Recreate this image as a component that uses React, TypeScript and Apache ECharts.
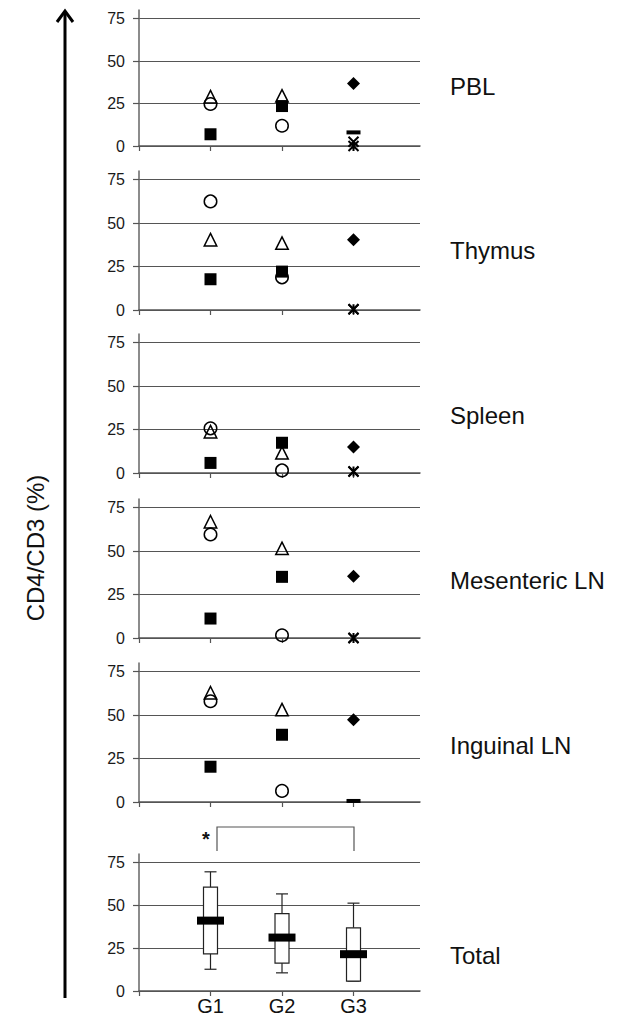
import React, { useEffect, useRef } from "react";
import * as echarts from "echarts";

// ---- data ----
const groups = ["G1", "G2", "G3"];
const tissues = ["PBL", "Thymus", "Spleen", "Mesenteric LN", "Inguinal LN"];
const yTicks = [0, 25, 50, 75];

// open triangle (G1, G2) per tissue
const triangleG1 = [29, 40.5, 23.8, 66.9, 62.9];
const triangleG2 = [29.5, 38.5, 11.6, 51.6, 53.2];
// open circle
const circleG1 = [24.7, 62.5, 25.7, 59.6, 58.0];
const circleG2 = [11.9, 18.8, 1.5, 1.6, 6.4];
// filled square
const squareG1 = [6.9, 17.7, 5.8, 11.2, 20.3];
const squareG2 = [23.5, 22.1, 17.4, 35.2, 38.7];
// G3 animals
const diamondG3 = [36.8, 40.4, 14.9, 35.6, 47.4];
const crossG3: (number | null)[] = [2.5, 0.4, 0.9, 0, null];
const starG3: (number | null)[] = [0, 0.4, 0.9, 0, null];
const dashG3: (number | null)[] = [8, null, null, null, 0.6];

// Total box plot (G1, G2, G3)
const boxLow = [12.7, 10.6, 5.8];
const boxQ1 = [21.7, 16.3, 5.8];
const boxMedian = [41.1, 31.2, 21.5];
const boxQ3 = [60.6, 45.2, 36.9];
const boxHigh = [69.6, 56.7, 51.3];

const FONT = "'Liberation Sans', Arial, Helvetica, sans-serif";

export default function App() {
  const ref = useRef<HTMLDivElement>(null);

  useEffect(() => {
    if (!ref.current) return;
    const chart = echarts.init(ref.current, undefined, { renderer: "svg" });

    const gridBottoms = [146, 310, 473, 638, 802, 993];
    const gridHeights = [136, 139, 139, 139, 139, 139];
    const grids = gridBottoms.map((b, i) => ({
      left: 139,
      width: 281,
      top: b - gridHeights[i],
      height: gridHeights[i],
    }));

    const xAxes = grids.map((_, i) => ({
      type: "value",
      gridIndex: i,
      min: 0,
      max: 3.93,
      interval: 1,
      axisLine: { show: true, lineStyle: { color: "#555", width: 1.5 } },
      axisTick: {
        show: true,
        length: 5,
        customValues: [0, 1, 2, 3],
        lineStyle: { color: "#555", width: 1.2 },
      },
      axisLabel: {
        show: i === 5,
        customValues: [1, 2, 3],
        formatter: (v: number) => groups[Math.round(v) - 1] ?? "",
        fontSize: 20,
        color: "#111",
        fontFamily: FONT,
        margin: 5,
      },
      splitLine: { show: false },
    }));

    const yAxes = grids.map((_, i) => ({
      type: "value",
      gridIndex: i,
      min: 0,
      max: 80,
      interval: 25,
      axisLine: { show: true, lineStyle: { color: "#666", width: 1.5 } },
      axisTick: {
        show: true,
        length: 6,
        customValues: yTicks,
        lineStyle: { color: "#555", width: 1.2 },
      },
      axisLabel: {
        customValues: yTicks,
        fontSize: 16,
        color: "#1a1a1a",
        fontFamily: FONT,
        margin: 14,
      },
      splitLine: {
        show: true,
        lineStyle: { color: "#555", width: 1.2 },
      },
    }));

    const open = { color: "rgba(0,0,0,0)", borderColor: "#000", borderWidth: 1.5, opacity: 1 };
    const filled = { color: "#000", opacity: 1 };

    const pts = (g1: (number | null)[] | null, g2: (number | null)[] | null, g3: (number | null)[] | null, i: number) => {
      const out: number[][] = [];
      if (g1 && g1[i] != null) out.push([1, g1[i] as number]);
      if (g2 && g2[i] != null) out.push([2, g2[i] as number]);
      if (g3 && g3[i] != null) out.push([3, g3[i] as number]);
      return out;
    };

    const series: any[] = [];
    tissues.forEach((_, i) => {
      const base = { type: "scatter", xAxisIndex: i, yAxisIndex: i, silent: true };
      series.push({ ...base, symbol: "rect", symbolSize: 12, itemStyle: filled, data: pts(squareG1, squareG2, null, i) });
      series.push({ ...base, symbol: "diamond", symbolSize: 13, itemStyle: filled, data: pts(null, null, diamondG3, i) });
      series.push({ ...base, symbol: "rect", symbolSize: [14, 4], itemStyle: filled, data: pts(null, null, dashG3, i) });
      series.push({
        ...base,
        symbol: "path://M0 0L10 10M10 0L0 10",
        symbolSize: 10,
        itemStyle: { color: "none", borderColor: "#000", borderWidth: 2, opacity: 1 },
        data: pts(null, null, crossG3, i),
      });
      series.push({
        ...base,
        symbol: "path://M0 0L10 10M10 0L0 10M5 0L5 10",
        symbolSize: 10,
        itemStyle: { color: "none", borderColor: "#000", borderWidth: 2, opacity: 1 },
        data: pts(null, null, starG3, i),
      });
      series.push({ ...base, symbol: "circle", symbolSize: 12.5, itemStyle: open, data: pts(circleG1, circleG2, null, i) });
      series.push({ ...base, symbol: "triangle", symbolSize: 12.5, itemStyle: open, data: pts(triangleG1, triangleG2, null, i) });
    });

    series.push({
      type: "custom",
      xAxisIndex: 5,
      yAxisIndex: 5,
      silent: true,
      data: groups.map((_, k) => [k + 1, boxLow[k], boxQ1[k], boxMedian[k], boxQ3[k], boxHigh[k]]),
      renderItem: (params: any, api: any) => {
        const x = api.value(0);
        const low = api.coord([x, api.value(1)]);
        const q1 = api.coord([x, api.value(2)]);
        const med = api.coord([x, api.value(3)]);
        const q3 = api.coord([x, api.value(4)]);
        const high = api.coord([x, api.value(5)]);
        const cx = low[0];
        const bw = 14;
        const cw = 12;
        const mw = 27;
        const mh = 8;
        const lineStyle = { stroke: "#222", lineWidth: 1.2 };
        return {
          type: "group",
          children: [
            { type: "line", shape: { x1: cx, y1: high[1], x2: cx, y2: q3[1] }, style: lineStyle },
            { type: "line", shape: { x1: cx - cw / 2, y1: high[1], x2: cx + cw / 2, y2: high[1] }, style: lineStyle },
            { type: "line", shape: { x1: cx, y1: q1[1], x2: cx, y2: low[1] }, style: lineStyle },
            { type: "line", shape: { x1: cx - cw / 2, y1: low[1], x2: cx + cw / 2, y2: low[1] }, style: lineStyle },
            {
              type: "rect",
              shape: { x: cx - bw / 2, y: q3[1], width: bw, height: q1[1] - q3[1] },
              style: { fill: "#fff", stroke: "#222", lineWidth: 1.2 },
            },
            {
              type: "rect",
              shape: { x: cx - mw / 2, y: med[1] - mh / 2, width: mw, height: mh },
              style: { fill: "#000" },
            },
          ],
        };
      },
    });

    const labelYs = [86, 250, 415, 580, 745, 955];
    const rightLabels = [...tissues, "Total"].map((t, i) => ({
      type: "text",
      x: 450,
      y: labelYs[i],
      style: { text: t, fontSize: 24, fill: "#111", fontFamily: FONT, verticalAlign: "middle" },
    }));

    chart.setOption({
      animation: false,
      backgroundColor: "#fff",
      grid: grids,
      xAxis: xAxes,
      yAxis: yAxes,
      series,
      graphic: [
        { type: "line", shape: { x1: 65, y1: 998, x2: 65, y2: 12 }, style: { stroke: "#000", lineWidth: 3 } },
        {
          type: "polyline",
          shape: { points: [[57, 22], [65, 11], [73, 22]] },
          style: { stroke: "#000", lineWidth: 3, fill: "none" },
        },
        {
          type: "text",
          x: 35,
          y: 548,
          rotation: Math.PI / 2,
          style: {
            text: "CD4/CD3 (%)",
            fontSize: 24,
            fill: "#111",
            fontFamily: FONT,
            align: "center",
            verticalAlign: "middle",
          },
        },
        ...rightLabels,
        {
          type: "polyline",
          shape: { points: [[217, 851], [217, 827], [354, 827], [354, 851]] },
          style: { stroke: "#555", lineWidth: 1.2, fill: "none" },
        },
        {
          type: "text",
          x: 206,
          y: 839,
          style: {
            text: "*",
            fontSize: 20,
            fontWeight: "bold",
            fill: "#111",
            fontFamily: FONT,
            align: "center",
            verticalAlign: "middle",
          },
        },
      ],
    });

    return () => chart.dispose();
  }, []);

  return <div ref={ref} style={{ position: "fixed", left: 0, top: 0, width: 618, height: 1016 }} />;
}
